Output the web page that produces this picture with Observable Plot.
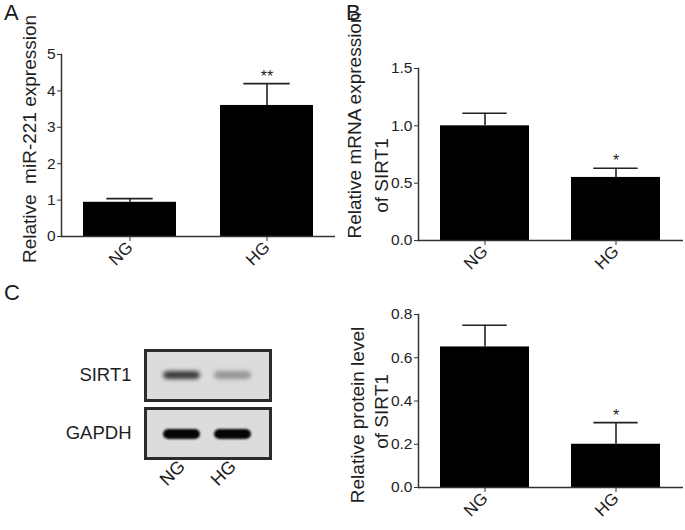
<!DOCTYPE html>
<html><head><meta charset="utf-8">
<script src="https://cdn.jsdelivr.net/npm/d3@7"></script>
<script src="https://cdn.jsdelivr.net/npm/@observablehq/plot@0.6"></script>
<style>
html,body{margin:0;padding:0;background:#fff;}
#fig{position:relative;width:685px;height:530px;overflow:hidden;font-family:Arial,"Liberation Sans",sans-serif;color:#1a1a1a;background:#fff;}
.panel{position:absolute;}
.letter{position:absolute;font-size:22px;line-height:22px;}
</style></head><body>
<div id="fig">
  <div class="letter" style="left:4px;top:2px">A</div>
  <div class="letter" style="left:346px;top:2px">B</div>
  <div class="letter" style="left:4px;top:282px">C</div>
  <div class="panel" id="pA" style="left:0;top:0"></div>
  <div class="panel" id="pB" style="left:340px;top:0"></div>
  <div class="panel" id="pBlot" style="left:0;top:280px"></div>
  <div class="panel" id="pC" style="left:340px;top:280px"></div>
</div>
<script>
// ---- data ----
const groups = ["NG", "HG"];
const mirMean = [0.94, 3.6];
const mirSem = [0.1, 0.6];
const mirSig = ["", "**"];
const mrnaMean = [1.0, 0.55];
const mrnaSem = [0.11, 0.08];
const mrnaSig = ["", "*"];
const protMean = [0.65, 0.2];
const protSem = [0.1, 0.1];
const protSig = ["", "*"];
const blotProteins = ["SIRT1", "GAPDH"];
const sirt1Band = [0.8, 0.35];
const gapdhBand = [1, 1];
const ticksA = [0, 1, 2, 3, 4, 5];
const ticksB = [0, 0.5, 1.0, 1.5];
const ticksC = [0, 0.2, 0.4, 0.6, 0.8];

const FONT = "Arial, 'Liberation Sans', sans-serif";
const INK = "#1e1e1e";

function rows(mean, sem, sig) {
  return groups.map((g, i) => ({group: g, mean: mean[i], upper: mean[i] + sem[i], sig: sig[i]}));
}

function barPanel(o) {
  const data = rows(o.mean, o.sem, o.sig);
  const fw = o.width - o.ml - o.mr;
  const step = fw / (groups.length - o.pi + 2 * o.po);
  const bw = step * (1 - o.pi);
  const titleMarks = o.titles.map(t =>
    Plot.text([t.text], {frameAnchor: "left", textAnchor: "middle", text: d => d, rotate: -90, dx: t.dx, dy: t.dy, fontSize: 19, fill: INK}));
  return Plot.plot({
    width: o.width, height: o.height,
    marginLeft: o.ml, marginRight: o.mr, marginTop: o.mt, marginBottom: o.mb,
    style: {fontFamily: FONT, color: INK, background: "transparent", overflow: "visible"},
    x: {domain: groups, paddingInner: o.pi, paddingOuter: o.po, label: null},
    y: {domain: o.yDomain, label: null},
    marks: [
      Plot.barY(data, {x: "group", y: "mean", fill: "#000"}),
      Plot.ruleX(data, {x: "group", y1: "mean", y2: "upper", stroke: "#222", strokeWidth: 1.6}),
      Plot.tickY(data, {x: "group", y: "upper", stroke: "#222", strokeWidth: 1.6, insetLeft: bw / 4, insetRight: bw / 4}),
      Plot.text(data.filter(d => d.sig), {x: "group", y: "upper", text: "sig", dy: -7, fontSize: 16, fill: INK}),
      Plot.ruleY([0], {stroke: "#333", strokeWidth: 1.5}),
      Plot.frame({anchor: "left", stroke: "#333", strokeWidth: 1.5}),
      Plot.axisY({ticks: o.ticks, tickFormat: o.fmt, tickSize: 4, tickPadding: 2, fontSize: 15.5, label: null, stroke: "#333"}),
      Plot.axisX({tickRotate: -45, tickSize: 5, tickPadding: 3, fontSize: 17, label: null, stroke: "#333"}),
      ...titleMarks
    ]
  });
}

document.getElementById("pA").append(barPanel({
  mean: mirMean, sem: mirSem, sig: mirSig, yDomain: [0, 5], ticks: ticksA, fmt: d3.format("d"),
  width: 340, height: 280, ml: 61, mr: 5, mt: 54, mb: 44, pi: 0.32, po: 0.16,
  titles: [{text: "Relative  miR-221 expression", dx: -32, dy: -6.5}]
}));

document.getElementById("pB").append(barPanel({
  mean: mrnaMean, sem: mrnaSem, sig: mrnaSig, yDomain: [0, 1.5], ticks: ticksB, fmt: d3.format(".1f"),
  width: 345, height: 280, ml: 78, mr: 2, mt: 68, mb: 40, pi: 0.32, po: 0.17,
  titles: [{text: "Relative mRNA expression", dx: -64, dy: -29}, {text: "of SIRT1", dx: -37, dy: 21}]
}));

document.getElementById("pC").append(barPanel({
  mean: protMean, sem: protSem, sig: protSig, yDomain: [0, 0.8], ticks: ticksC, fmt: d3.format(".1f"),
  width: 345, height: 250, ml: 78, mr: 2, mt: 34, mb: 43, pi: 0.32, po: 0.17,
  titles: [{text: "Relative protein level", dx: -61, dy: 14}, {text: "of SIRT1", dx: -37, dy: 10.5}]
}));

// ---- western blot ----
const blotRows = [];
blotProteins.forEach((p, i) => groups.forEach((g, j) =>
  blotRows.push({protein: p, lane: g, intensity: (i === 0 ? sirt1Band : gapdhBand)[j]})));

document.getElementById("pBlot").append(Plot.plot({
  width: 340, height: 250, marginLeft: 145, marginRight: 70, marginTop: 69, marginBottom: 71,
  style: {fontFamily: FONT, color: INK, background: "transparent", overflow: "visible"},
  x: {domain: groups, paddingInner: 0.27, paddingOuter: 0.337, label: null},
  fy: {domain: blotProteins, paddingInner: 0.13, paddingOuter: 0, label: null},
  opacity: {domain: [0, 1], range: [0, 1]},
  marks: [
    Plot.frame({fill: "#dcdcdc", stroke: null}),
    Plot.cell(blotRows.filter(d => d.protein === "SIRT1"), {x: "lane", fy: "protein", fill: "#111", fillOpacity: "intensity",
      insetTop: 21, insetBottom: 21, rx: 5, imageFilter: "blur(2.2px)"}),
    Plot.cell(blotRows.filter(d => d.protein === "GAPDH"), {x: "lane", fy: "protein", fill: "#050505", fillOpacity: "intensity",
      insetTop: 21, insetBottom: 19, rx: 5.5, imageFilter: "blur(1.2px)"}),
    Plot.frame({stroke: "#2b2b2b", strokeWidth: 3}),
    Plot.axisFy({anchor: "left", tickSize: 0, tickPadding: 14, fontSize: 18.5, label: null}),
    Plot.axisX({tickRotate: -45, tickSize: 0, tickPadding: 5, fontSize: 18, label: null})
  ]
}));
</script>
</body></html>
